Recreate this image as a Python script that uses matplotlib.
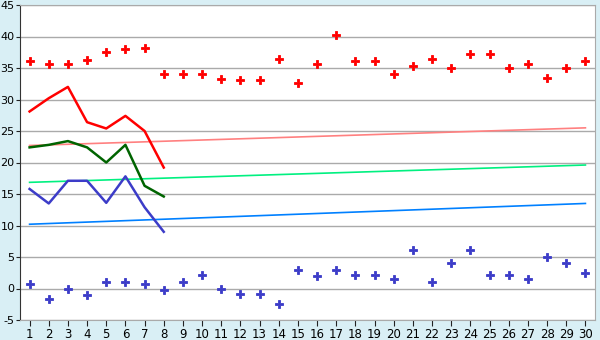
import numpy as np
import matplotlib.pyplot as plt

plt.rcParams["axes.unicode_minus"] = False

days = np.arange(1, 31)

# scattered points
red_pts = [36.1, 35.7, 35.6, 36.2, 37.5, 38.0, 38.1, 34.0, 34.0, 34.0,
           33.2, 33.1, 33.1, 36.4, 32.6, 35.6, 40.2, 36.1, 36.1, 34.0,
           35.3, 36.4, 35.0, 37.2, 37.2, 35.0, 35.6, 33.4, 35.0, 36.1]
blue_pts = [0.7, -1.7, 0.0, -1.1, 1.0, 1.1, 0.7, -0.3, 1.0, 2.2,
            -0.1, -0.9, -0.9, -2.4, 2.9, 2.0, 2.9, 2.2, 2.2, 1.5,
            6.1, 1.1, 4.0, 6.1, 2.2, 2.1, 1.5, 5.0, 4.0, 2.4]

# lines for the first 8 days
line_days = np.arange(1, 9)
red_line = [28.1, 30.2, 32.0, 26.4, 25.4, 27.4, 25.0, 19.2]
green_line = [22.4, 22.8, 23.4, 22.4, 20.0, 22.8, 16.3, 14.6]
blue_line = [15.8, 13.5, 17.1, 17.1, 13.6, 17.8, 12.9, 9.0]

# trend lines (start, end)
trend_x = [1, 30]
pink_trend = [22.7, 25.5]
lgreen_trend = [16.85, 19.6]
lblue_trend = [10.2, 13.5]

fig = plt.figure(figsize=(6, 3.4), dpi=100, facecolor="#d9eff5")
ax = fig.add_axes([20 / 600, 20 / 340, 575 / 600, 315 / 340])
ax.set_facecolor("white")

ax.plot(trend_x, pink_trend, color="#ff8080", lw=1.2, zorder=2)
ax.plot(trend_x, lgreen_trend, color="#00f080", lw=1.2, zorder=2)
ax.plot(trend_x, lblue_trend, color="#0080ff", lw=1.2, zorder=2)

ax.plot(line_days, red_line, color="#ff0000", lw=1.8, zorder=3)
ax.plot(line_days, green_line, color="#006400", lw=1.8, zorder=3)
ax.plot(line_days, blue_line, color="#3c3cc8", lw=1.8, zorder=3)

ax.plot(days, red_pts, "P", color="#ff0000", ms=5.5, mew=0.6, ls="none", zorder=4)
ax.plot(days, blue_pts, "P", color="#3c3cc8", ms=5.5, mew=0.6, ls="none", zorder=4)

ax.set_xlim(0.5, 30.5)
ax.set_ylim(-5, 45)
ax.set_xticks(days)
ax.set_yticks(range(-5, 46, 5))
ax.yaxis.grid(True, color="#aaaaaa", lw=1.0)
ax.set_axisbelow(True)

for s in ["top", "right", "bottom"]:
    ax.spines[s].set_color("#aaaaaa")
ax.spines["left"].set_color("#333333")
ax.tick_params(axis="x", labelsize=8.5, length=4, color="#222222", pad=2)
ax.tick_params(axis="y", labelsize=8, length=3, color="#222222", pad=1)

fig.savefig("out.png", dpi=100, facecolor=fig.get_facecolor())
